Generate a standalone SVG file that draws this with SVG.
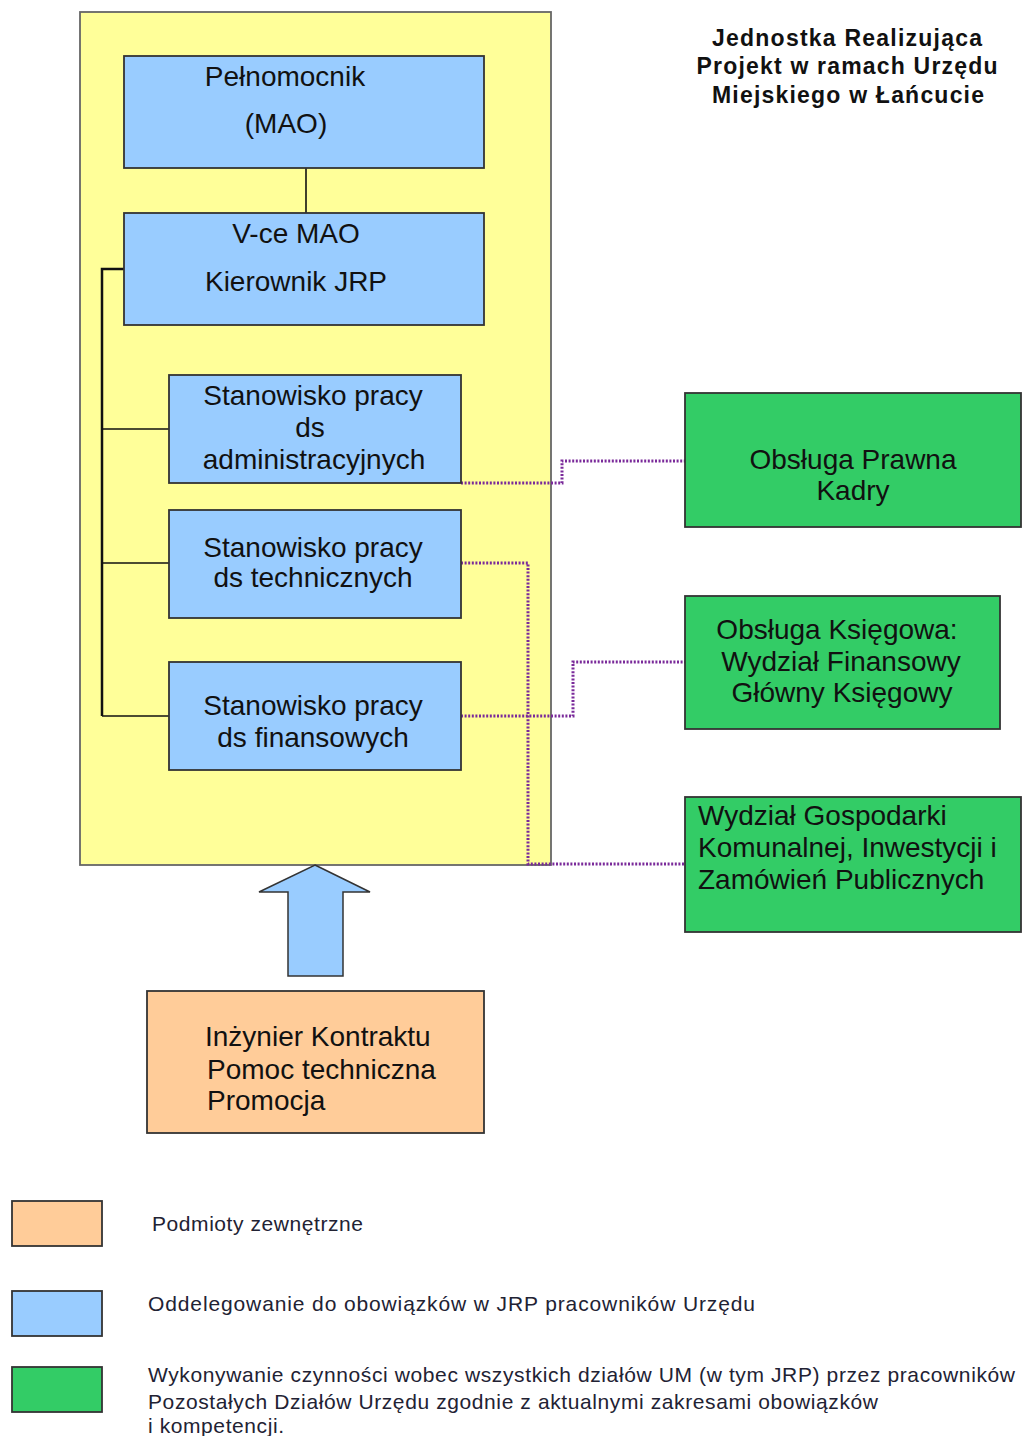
<svg xmlns="http://www.w3.org/2000/svg" width="1022" height="1436" viewBox="0 0 1022 1436">
<style>
.t{font-family:"Liberation Sans",Arial,sans-serif;font-size:28px;fill:#111}
.c{text-anchor:middle}
.ti{font-family:"Liberation Sans",Arial,sans-serif;font-size:23px;font-weight:bold;fill:#111;text-anchor:middle}
.lg{font-family:"Liberation Sans",Arial,sans-serif;font-size:21px;fill:#222233}
.box{stroke:#333;stroke-width:1.8}
.blue{fill:#99ccff}
.green{fill:#33cc66}
.orange{fill:#ffcc99}
.solid{stroke:#111;fill:none}
.dot{stroke:#7a2a9a;stroke-width:3;stroke-dasharray:2 1.6;fill:none}
</style>
<rect id="container" x="80" y="12" width="471" height="853" fill="#ffff99" stroke="#666" stroke-width="1.8"/>
<g id="connectors">
<line class="solid" x1="306" y1="168" x2="306" y2="213" stroke-width="1.6"/>
<polyline class="solid" points="124,269 102,269 102,716" stroke-width="2.5"/>
<line class="solid" x1="102" y1="429" x2="169" y2="429" stroke-width="1.6"/>
<line class="solid" x1="102" y1="563" x2="169" y2="563" stroke-width="1.6"/>
<line class="solid" x1="102" y1="716" x2="169" y2="716" stroke-width="1.6"/>
<polyline class="dot" points="461,483 562,483 562,461 685,461"/>
<polyline class="dot" points="461,563 528,563 528,864 685,864"/>
<polyline class="dot" points="461,716 573,716 573,662 685,662"/>
</g>
<g id="pelnomocnik">
<rect class="box blue" x="124" y="56" width="360" height="112"/>
<text class="t c" x="285" y="86">Pełnomocnik</text>
<text class="t c" x="286" y="133">(MAO)</text>
</g>
<g id="vce">
<rect class="box blue" x="124" y="213" width="360" height="112"/>
<text class="t c" x="296" y="243">V-ce MAO</text>
<text class="t c" x="296" y="291">Kierownik JRP</text>
</g>
<g id="adm">
<rect class="box blue" x="169" y="375" width="292" height="108"/>
<text class="t c" x="313" y="405">Stanowisko pracy</text>
<text class="t c" x="310" y="437">ds</text>
<text class="t c" x="314" y="469">administracyjnych</text>
</g>
<g id="tech">
<rect class="box blue" x="169" y="510" width="292" height="108"/>
<text class="t c" x="313" y="557">Stanowisko pracy</text>
<text class="t c" x="313" y="587">ds technicznych</text>
</g>
<g id="fin">
<rect class="box blue" x="169" y="662" width="292" height="108"/>
<text class="t c" x="313" y="715">Stanowisko pracy</text>
<text class="t c" x="313" y="747">ds finansowych</text>
</g>
<g id="prawna">
<rect class="box green" x="685" y="393" width="336" height="134"/>
<text class="t c" x="853" y="469">Obsługa Prawna</text>
<text class="t c" x="853" y="500">Kadry</text>
</g>
<g id="ksiegowa">
<rect class="box green" x="685" y="596" width="315" height="133"/>
<text class="t c" x="837" y="639">Obsługa Księgowa:</text>
<text class="t c" x="841" y="671">Wydział Finansowy</text>
<text class="t c" x="842" y="702">Główny Księgowy</text>
</g>
<g id="gospodarki">
<rect class="box green" x="685" y="797" width="336" height="135"/>
<text class="t" x="698" y="825">Wydział Gospodarki</text>
<text class="t" x="698" y="857">Komunalnej, Inwestycji i</text>
<text class="t" x="698" y="889">Zamówień Publicznych</text>
</g>
<g id="arrow">
<polygon points="315,865 370,892 343,892 343,976 288,976 288,892 259,892" fill="#99ccff" stroke="#333" stroke-width="1.5"/>
</g>
<g id="inzynier">
<rect class="box orange" x="147" y="991" width="337" height="142"/>
<text class="t" x="205" y="1046">Inżynier Kontraktu</text>
<text class="t" x="207" y="1079">Pomoc techniczna</text>
<text class="t" x="207" y="1110">Promocja</text>
</g>
<g id="title">
<text class="ti" x="847" y="46" textLength="270">Jednostka Realizująca</text>
<text class="ti" x="847" y="74" textLength="301">Projekt w ramach Urzędu</text>
<text class="ti" x="848" y="103" textLength="272">Miejskiego w Łańcucie</text>
</g>
<g id="legend">
<rect class="box orange" x="12" y="1201" width="90" height="45"/>
<rect class="box blue" x="12" y="1291" width="90" height="45"/>
<rect class="box green" x="12" y="1367" width="90" height="45"/>
<text class="lg" x="152" y="1231" textLength="211">Podmioty zewnętrzne</text>
<text class="lg" x="148" y="1311" textLength="607">Oddelegowanie do obowiązków w  JRP pracowników  Urzędu</text>
<text class="lg" x="148" y="1382" textLength="867">Wykonywanie czynności wobec wszystkich działów UM (w tym JRP) przez pracowników</text>
<text class="lg" x="148" y="1409" textLength="730">Pozostałych Działów Urzędu zgodnie z aktualnymi zakresami obowiązków</text>
<text class="lg" x="148" y="1433" textLength="136">i kompetencji.</text>
</g>
</svg>
